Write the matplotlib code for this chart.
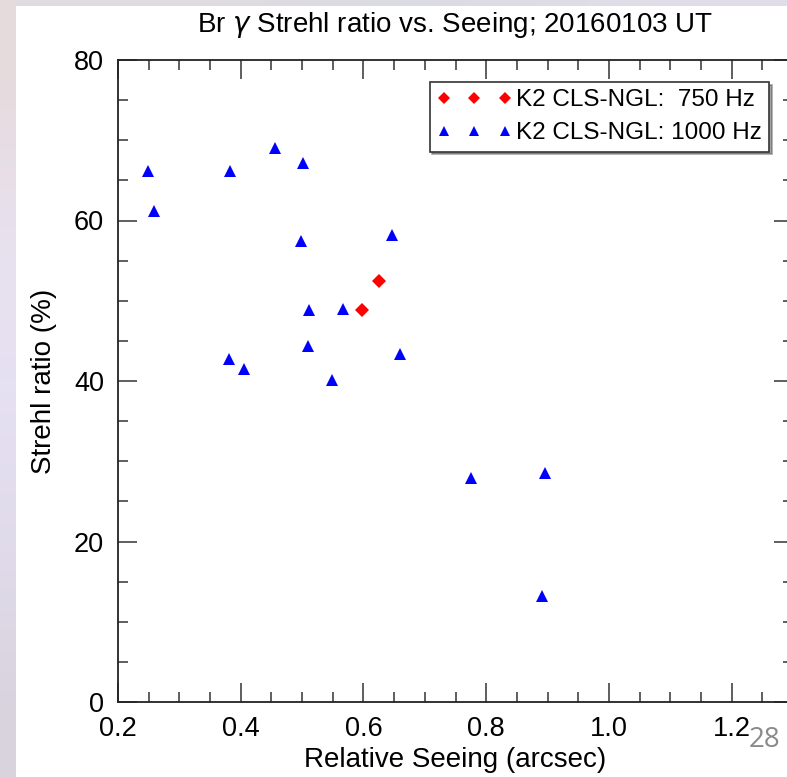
import numpy as np
import matplotlib
matplotlib.use("Agg")
import matplotlib.pyplot as plt
from matplotlib.ticker import MultipleLocator

plt.rcParams['font.family'] = ['Liberation Sans', 'DejaVu Sans']

# Data
seeing_750 = [0.597, 0.625]
strehl_750 = [48.8, 52.5]

seeing_1000 = [0.249, 0.259, 0.382, 0.456, 0.502, 0.498, 0.647, 0.511, 0.566,
               0.509, 0.381, 0.405, 0.549, 0.660, 0.775, 0.896, 0.891]
strehl_1000 = [66.2, 61.2, 66.2, 69.0, 67.2, 57.5, 58.2, 48.8, 49.0,
               44.4, 42.8, 41.5, 40.1, 43.4, 27.9, 28.5, 13.2]

label_750 = "K2 CLS-NGL:  750 Hz"
label_1000 = "K2 CLS-NGL: 1000 Hz"
title = "Br $\\gamma$ Strehl ratio vs. Seeing; 20160103 UT"
xlabel = "Relative Seeing (arcsec)"
ylabel = "Strehl ratio (%)"
xticks = [0.2, 0.4, 0.6, 0.8, 1.0, 1.2]
yticks = [0, 20, 40, 60, 80]

W, H = 787, 777
fig = plt.figure(figsize=(W / 100, H / 100), dpi=100)
fig.patch.set_facecolor('white')

# slide background strips
bg = fig.add_axes([0, 0, 16 / W, 1])
grad = np.array([[0.90, 0.86, 0.87], [0.91, 0.88, 0.93], [0.90, 0.88, 0.95],
                 [0.88, 0.86, 0.92], [0.85, 0.83, 0.87]])
bg.imshow(grad[:, None, :], aspect='auto', extent=[0, 1, 0, 1], interpolation='bilinear')
bg.axis('off')
top = fig.add_axes([16 / W, 1 - 6 / H, 1 - 16 / W, 6 / H])
top.imshow(np.array([[[0.88, 0.86, 0.88], [0.86, 0.86, 0.89], [0.88, 0.87, 0.91]]]),
           aspect='auto', extent=[0, 1, 0, 1], interpolation='bilinear')
top.axis('off')

ax = fig.add_axes([118 / W, (H - 702) / H, 675 / W, 642 / H])
ax.plot(seeing_750, strehl_750, linestyle='none', marker='D', color='red',
        markersize=7, markeredgewidth=0, label=label_750)
ax.plot(seeing_1000, strehl_1000, linestyle='none', marker='^', color='blue',
        markersize=8, markeredgewidth=0, label=label_1000)

ax.set_xlim(0.2, 1.3)
ax.set_ylim(0, 80)
ax.set_xticks(xticks)
ax.set_yticks(yticks)
ax.xaxis.set_minor_locator(MultipleLocator(0.05))
ax.yaxis.set_minor_locator(MultipleLocator(5))
ax.tick_params(which='both', direction='in', top=True, right=True, labelsize=19.5, color='#333333')
ax.tick_params(which='major', length=14, width=1.1)
ax.tick_params(which='minor', length=7, width=1.1)
ax.tick_params(axis='y', pad=10)
ax.tick_params(axis='x', pad=10)
for s in ax.spines.values():
    s.set_linewidth(1.3)
    s.set_color('#222222')

ax.set_title(title, fontsize=20, pad=20)
ax.set_xlabel(xlabel, fontsize=20, labelpad=4)
ax.set_ylabel(ylabel, fontsize=20, labelpad=12)

leg = ax.legend(loc='upper right', bbox_to_anchor=(0.9644, 0.9657), borderaxespad=0,
                numpoints=3, fontsize=17.5, handlelength=3.1, handletextpad=0.15,
                borderpad=0.3, labelspacing=0.45, fancybox=False, shadow=True,
                framealpha=1, edgecolor='#333333', markerscale=0.85)
leg.get_frame().set_linewidth(1.2)

fig.text(764 / W, 1 - 740 / H, "28", fontsize=20, color='#8a8a8a',
         family=['Open Sans', 'DejaVu Sans'], ha='center', va='center')

fig.savefig('out.png', dpi=100)
